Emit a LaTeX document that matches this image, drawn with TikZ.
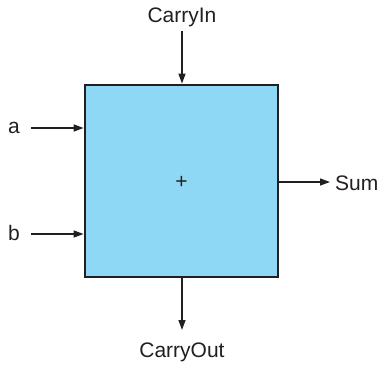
\documentclass[tikz,border=0pt]{standalone}
\usepackage{fontspec}
\setmainfont{Liberation Sans}
\usetikzlibrary{arrows.meta}
\definecolor{boxfill}{HTML}{8ED8F5}
\definecolor{ink}{HTML}{231F20}
\begin{document}
\begin{tikzpicture}[x=1pt,y=-1pt,
  lbl/.style={font=\fontsize{21}{25}\selectfont, text=ink, inner sep=0pt},
  conn/.style={draw=ink, line width=1.3pt, -{Triangle[length=10pt,width=7pt]}}]
\useasboundingbox (0,0) rectangle (381,365);
\node[draw=ink, line width=2.8pt, fill=boxfill, minimum width=193pt, minimum height=192pt, inner sep=0pt] (box) at (181.5,181) {};
\node[lbl] (plus) at (181.5,182) {+};
\node[lbl] (cin) at (182,17) {CarryIn};
\node[lbl] (cout) at (182,352) {CarryOut};
\node[lbl] (a) at (14,128) {a};
\node[lbl] (b) at (14,233) {b};
\node[lbl, anchor=west] (sum) at (335,183) {Sum};
\coordinate (cinS) at (182,31);
\coordinate (aS) at (31,128);
\coordinate (bS) at (31,234);
\coordinate (sumE) at (330,182);
\coordinate (coutE) at (182,330);
\draw[conn] (cinS) -- (cinS |- box.north);
\draw[conn] (aS) -- (aS -| box.west);
\draw[conn] (bS) -- (bS -| box.west);
\draw[conn] (sumE -| box.east) -- (sumE);
\draw[conn] (coutE |- box.south) -- (coutE);
\end{tikzpicture}
\end{document}
